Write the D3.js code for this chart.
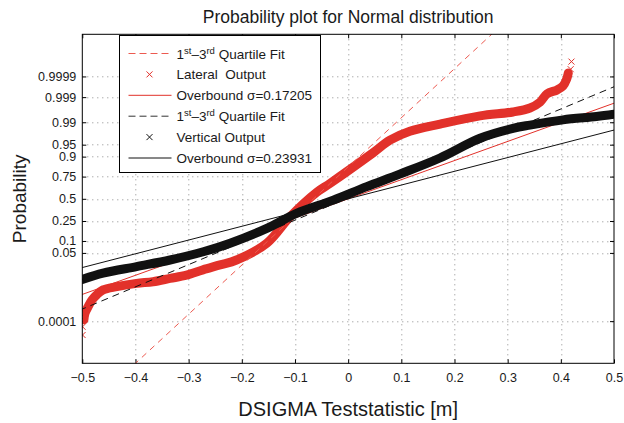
<!DOCTYPE html>
<html lang="en">
<head>
<meta charset="UTF-8">
<title>Probability plot for Normal distribution</title>
<script src="https://d3js.org/d3.v7.min.js"></script>
<style>
  body { margin: 0; background: #fff; font-family: "Liberation Sans", Arial, sans-serif; }
  svg text { fill: #1a1a1a; }
  .grid line { stroke: #8a8a8a; stroke-width: 1; stroke-dasharray: 1,4; }
  .axis text { font-size: 12.5px; }
  .axis line { stroke: #000; }
</style>
</head>
<body>
<svg width="624" height="423"></svg>
<script>
// x ticks
const xTicks = [-0.5, -0.4, -0.3, -0.2, -0.1, 0, 0.1, 0.2, 0.3, 0.4, 0.5];
const xTickLabels = ["\u22120.5", "\u22120.4", "\u22120.3", "\u22120.2", "\u22120.1", "0", "0.1", "0.2", "0.3", "0.4", "0.5"];
// probability ticks
const probTicks = [0.0001, 0.05, 0.1, 0.25, 0.5, 0.75, 0.9, 0.95, 0.99, 0.999, 0.9999];
const probLabels = ["0.0001", "0.05", "0.1", "0.25", "0.5", "0.75", "0.9", "0.95", "0.99", "0.999", "0.9999"];

// lateral output (value, normal quantile)
const latValue = [-0.4995, -0.4995, -0.497, -0.495, -0.489, -0.482, -0.473, -0.461, -0.435, -0.398,
  -0.367, -0.335, -0.304, -0.273, -0.241, -0.210, -0.153, -0.109, -0.059, -0.034, 0.047, 0.0786,
  0.116, 0.173, 0.248, 0.310, 0.342, 0.361, 0.374, 0.393, 0.404, 0.411, 0.414, 0.4185, 0.420];
const latQuantile = [-4.14, -3.89, -3.68, -3.48, -3.28, -3.08, -2.92, -2.77, -2.67, -2.57,
  -2.52, -2.42, -2.32, -2.16, -2.01, -1.86, -1.35, -0.54, 0.2, 0.47, 1.40, 1.78,
  2.05, 2.27, 2.52, 2.64, 2.76, 2.94, 3.19, 3.31, 3.43, 3.64, 3.82, 3.94, 4.17];

// vertical output
const vertValue = [-0.500, -0.461, -0.398, -0.335, -0.2725, -0.222, -0.153, -0.097, -0.028, 0.035,
  0.097, 0.1726, 0.248, 0.310, 0.342, 0.404, 0.467, 0.500];
const vertQuantile = [-2.45, -2.26, -2.06, -1.86, -1.61, -1.35, -0.90, -0.44, -0.04, 0.37,
  0.75, 1.24, 1.84, 2.14, 2.24, 2.40, 2.50, 2.57];

// fitted lines: value = mean + sigma * quantile
const latFitMean = -0.065, latFitSigma = 0.067;
const latBoundMean = 0, latBoundSigma = 0.17205;
const vertFitMean = -0.004, vertFitSigma = 0.148;
const vertBoundMean = 0, vertBoundSigma = 0.23931;

const red = "#e2312a";
const redDash = "#ec5a50";

// inverse normal cdf (Acklam)
function norminv(p) {
  const a = [-39.69683028665376, 220.9460984245205, -275.9285104469687, 138.3577518672690, -30.66479806614716, 2.506628277459239];
  const b = [-54.47609879822406, 161.5858368580409, -155.6989798598866, 66.80131188771972, -13.28068155211313];
  const c = [-0.007784894002430293, -0.3223964580411365, -2.400758277161838, -2.549732539343734, 4.374664141464968, 2.938163982698783];
  const d = [0.007784695709041462, 0.3224671290700398, 2.445134137142996, 3.754408661907416];
  const pl = 0.02425;
  if (p < pl) {
    const q = Math.sqrt(-2 * Math.log(p));
    return (((((c[0]*q+c[1])*q+c[2])*q+c[3])*q+c[4])*q+c[5]) / ((((d[0]*q+d[1])*q+d[2])*q+d[3])*q+1);
  }
  if (p > 1 - pl) {
    const q = Math.sqrt(-2 * Math.log(1 - p));
    return -(((((c[0]*q+c[1])*q+c[2])*q+c[3])*q+c[4])*q+c[5]) / ((((d[0]*q+d[1])*q+d[2])*q+d[3])*q+1);
  }
  const q = p - 0.5, r = q * q;
  return (((((a[0]*r+a[1])*r+a[2])*r+a[3])*r+a[4])*r+a[5])*q / (((((b[0]*r+b[1])*r+b[2])*r+b[3])*r+b[4])*r+1);
}

const svg = d3.select("svg");
const margin = {left: 82.3, top: 34.3, right: 10, bottom: 59.7};
const width = 624 - margin.left - margin.right,
      height = 423 - margin.top - margin.bottom;

const x = d3.scaleLinear().domain([-0.5, 0.5]).range([0, width]);
const y = d3.scaleLinear().domain([-5, 5]).range([height, 0]);

const g = svg.append("g").attr("transform", `translate(${margin.left},${margin.top})`);

svg.append("defs").append("clipPath").attr("id", "plotclip")
  .append("rect").attr("width", width).attr("height", height);

// grid
const grid = g.append("g").attr("class", "grid");
grid.selectAll(".gx").data(xTicks.slice(1, -1)).enter().append("line")
  .attr("x1", d => Math.round(x(d)) + 0.5).attr("x2", d => Math.round(x(d)) + 0.5)
  .attr("y1", 0).attr("y2", height);
grid.selectAll(".gy").data(probTicks).enter().append("line")
  .attr("y1", d => Math.round(y(norminv(d))) + 0.5).attr("y2", d => Math.round(y(norminv(d))) + 0.5)
  .attr("x1", 0).attr("x2", width);

// axes
const fmtX = (d, i) => xTickLabels[i];
g.append("g").attr("class", "axis").attr("transform", `translate(0,${height})`)
  .call(d3.axisBottom(x).tickValues(xTicks).tickFormat(fmtX).tickSizeInner(-4).tickSizeOuter(0).tickPadding(10))
  .call(a => a.select(".domain").remove())
  .call(a => a.selectAll("text").attr("font-family", "Liberation Sans, Arial, sans-serif"));
g.append("g").attr("class", "axis")
  .call(d3.axisTop(x).tickValues(xTicks).tickFormat("").tickSizeInner(-4).tickSizeOuter(0))
  .call(a => a.select(".domain").remove());

const yTickValues = probTicks.map(norminv);
g.append("g").attr("class", "axis")
  .call(d3.axisLeft(y).tickValues(yTickValues).tickFormat((d, i) => probLabels[i]).tickSizeInner(-4).tickSizeOuter(0).tickPadding(6))
  .call(a => a.select(".domain").remove())
  .call(a => a.selectAll("text").attr("font-family", "Liberation Sans, Arial, sans-serif"));
g.append("g").attr("class", "axis").attr("transform", `translate(${width},0)`)
  .call(d3.axisRight(y).tickValues(yTickValues).tickFormat("").tickSizeInner(-4).tickSizeOuter(0))
  .call(a => a.select(".domain").remove());

const plot = g.append("g").attr("clip-path", "url(#plotclip)");

const band = d3.line().x(d => x(d[0])).y(d => y(d[1])).curve(d3.curveCatmullRom.alpha(0.5));

function crossMark(sel, pts, color) {
  sel.selectAll(null).data(pts).enter().append("path")
    .attr("d", d => {
      const cx = x(d[0]), cy = y(d[1]), s = 3;
      return `M${cx-s},${cy-s}L${cx+s},${cy+s}M${cx-s},${cy+s}L${cx+s},${cy-s}`;
    })
    .style("stroke", color).attr("stroke-width", 1).attr("fill", "none");
}

function fitLine(sel, mean, sigma, color, dash) {
  const pts = [-5.5, 5.5].map(z => [mean + sigma * z, z]);
  sel.append("path").attr("d", d3.line().x(d => x(d[0])).y(d => y(d[1]))(pts))
    .attr("fill", "none").style("stroke", color).attr("stroke-width", 1)
    .attr("stroke-dasharray", dash);
}

// lateral
const latPts = latValue.map((v, i) => [v, latQuantile[i]]);
plot.append("path").attr("d", band(latPts.slice(2, -2)))
  .attr("fill", "none").style("stroke", red).attr("stroke-width", 9)
  .attr("stroke-linecap", "round").attr("stroke-linejoin", "round");
crossMark(plot, latPts.slice(0, 4).concat(latPts.slice(-3)), red);
fitLine(plot, latFitMean, latFitSigma, redDash, "6,5");
fitLine(plot, latBoundMean, latBoundSigma, red, null);

// vertical
const vertPts = vertValue.map((v, i) => [v, vertQuantile[i]]);
plot.append("path").attr("d", band(vertPts))
  .attr("fill", "none").style("stroke", "#111").attr("stroke-width", 9)
  .attr("stroke-linecap", "round").attr("stroke-linejoin", "round");
crossMark(plot, vertPts.slice(0, 1), "#111");
fitLine(plot, vertFitMean, vertFitSigma, "#111", "7,5");
fitLine(plot, vertBoundMean, vertBoundSigma, "#111", null);

// frame
g.append("rect").attr("width", width).attr("height", height)
  .attr("fill", "none").attr("stroke", "#000").attr("stroke-width", 1);

// legend
const legendItems = [
  {type: "line", color: redDash, dash: "7,4", label: "fit"},
  {type: "mark", color: red, label: "Lateral  Output"},
  {type: "line", color: red, dash: null, label: "Overbound \u03c3=0.17205"},
  {type: "line", color: "#333", dash: "7,4", label: "fit"},
  {type: "mark", color: "#111", label: "Vertical Output"},
  {type: "line", color: "#111", dash: null, label: "Overbound \u03c3=0.23931"}
];
const lg = svg.append("g").attr("transform", "translate(119.5,35.5)");
lg.append("rect").attr("width", 201).attr("height", 137)
  .attr("fill", "#fff").attr("stroke", "#000").attr("stroke-width", 1);
const rows = lg.selectAll(".row").data(legendItems).enter().append("g")
  .attr("transform", (d, i) => `translate(0,${18 + i * 20.9})`);
rows.filter(d => d.type === "line").append("line")
  .attr("x1", 9).attr("x2", 52).attr("y1", 0).attr("y2", 0)
  .style("stroke", d => d.color).attr("stroke-width", 1)
  .attr("stroke-dasharray", d => d.dash);
rows.filter(d => d.type === "mark").append("path")
  .attr("d", "M27,-3L33,3M27,3L33,-3")
  .style("stroke", d => d.color).attr("stroke-width", 1);
const txt = rows.append("text").attr("x", 57).attr("y", 5)
  .style("font-size", "13.5px").style("white-space", "pre");
txt.filter(d => d.label !== "fit").text(d => d.label);
txt.filter(d => d.label === "fit").each(function() {
  const t = d3.select(this);
  t.append("tspan").text("1");
  t.append("tspan").attr("dy", -5).style("font-size", "9.5px").text("st");
  t.append("tspan").attr("dy", 5).text("\u20133");
  t.append("tspan").attr("dy", -5).style("font-size", "9.5px").text("rd");
  t.append("tspan").attr("dy", 5).text(" Quartile Fit");
});

// titles
svg.append("text").attr("x", margin.left + width / 2).attr("y", 23)
  .attr("text-anchor", "middle").style("font-size", "17.5px")
  .text("Probability plot for Normal distribution");
svg.append("text").attr("x", margin.left + width / 2).attr("y", 416)
  .attr("text-anchor", "middle").style("font-size", "20px")
  .text("DSIGMA Teststatistic [m]");
svg.append("text").attr("transform", `translate(26,${margin.top + height / 2}) rotate(-90)`)
  .attr("text-anchor", "middle").style("font-size", "19px")
  .text("Probability");
</script>
</body>
</html>
